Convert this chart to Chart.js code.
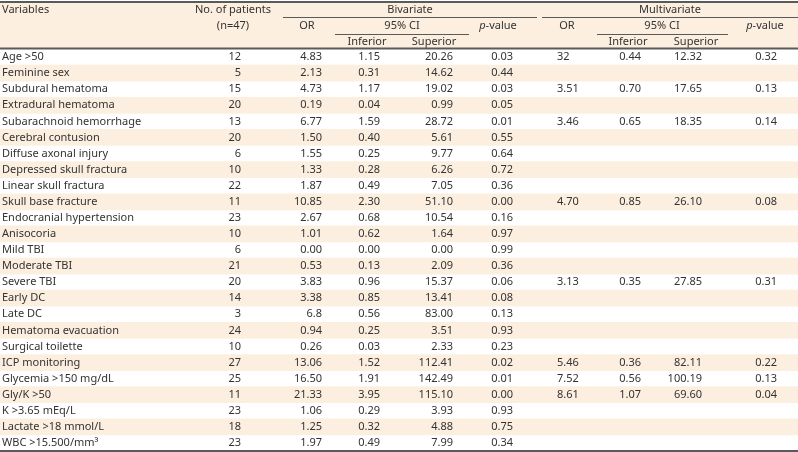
<!DOCTYPE html>
<html>
<head>
<meta charset="utf-8">
<script src="https://cdn.jsdelivr.net/npm/chart.js@4.4.1/dist/chart.umd.min.js"></script>
<style>
    body { margin: 0; background: #ffffff; }
    #wrap { width: 798px; height: 452px; }
</style>
</head>
<body>
<div id="wrap"><canvas id="tableChart"></canvas></div>
<script>
// table rows
const variables = [
    "Age >50", "Feminine sex", "Subdural hematoma", "Extradural hematoma",
    "Subarachnoid hemorrhage", "Cerebral contusion", "Diffuse axonal injury",
    "Depressed skull fractura", "Linear skull fractura", "Skull base fracture",
    "Endocranial hypertension", "Anisocoria", "Mild TBI", "Moderate TBI",
    "Severe TBI", "Early DC", "Late DC", "Hematoma evacuation", "Surgical toilette",
    "ICP monitoring", "Glycemia >150 mg/dL", "Gly/K >50", "K >3.65 mEq/L",
    "Lactate >18 mmol/L", "WBC >15.500/mm\u00B3"
];
const patients = [12, 5, 15, 20, 13, 20, 6, 10, 22, 11, 23, 10, 6, 21, 20, 14, 3, 24, 10, 27, 25, 11, 23, 18, 23];

// bivariate
const bivOR = ["4.83", "2.13", "4.73", "0.19", "6.77", "1.50", "1.55", "1.33", "1.87", "10.85", "2.67", "1.01", "0.00", "0.53", "3.83", "3.38", "6.8", "0.94", "0.26", "13.06", "16.50", "21.33", "1.06", "1.25", "1.97"];
const bivInf = ["1.15", "0.31", "1.17", "0.04", "1.59", "0.40", "0.25", "0.28", "0.49", "2.30", "0.68", "0.62", "0.00", "0.13", "0.96", "0.85", "0.56", "0.25", "0.03", "1.52", "1.91", "3.95", "0.29", "0.32", "0.49"];
const bivSup = ["20.26", "14.62", "19.02", "0.99", "28.72", "5.61", "9.77", "6.26", "7.05", "51.10", "10.54", "1.64", "0.00", "2.09", "15.37", "13.41", "83.00", "3.51", "2.33", "112.41", "142.49", "115.10", "3.93", "4.88", "7.99"];
const bivP = ["0.03", "0.44", "0.03", "0.05", "0.01", "0.55", "0.64", "0.72", "0.36", "0.00", "0.16", "0.97", "0.99", "0.36", "0.06", "0.08", "0.13", "0.93", "0.23", "0.02", "0.01", "0.00", "0.93", "0.75", "0.34"];

// multivariate (blank where not entered)
const mulOR = ["32", null, "3.51", null, "3.46", null, null, null, null, "4.70", null, null, null, null, "3.13", null, null, null, null, "5.46", "7.52", "8.61", null, null, null];
const mulInf = ["0.44", null, "0.70", null, "0.65", null, null, null, null, "0.85", null, null, null, null, "0.35", null, null, null, null, "0.36", "0.56", "1.07", null, null, null];
const mulSup = ["12.32", null, "17.65", null, "18.35", null, null, null, null, "26.10", null, null, null, null, "27.85", null, null, null, null, "82.11", "100.19", "69.60", null, null, null];
const mulP = ["0.32", null, "0.13", null, "0.14", null, null, null, null, "0.08", null, null, null, null, "0.31", null, null, null, null, "0.22", "0.13", "0.04", null, null, null];

const TEXT = "#333333";
const STRIPE = "#fcefdf";
const RULE = "#5a5a5a";
const FONT = '11px "Noto Sans", sans-serif';
const ITALIC = 'italic 11px "Noto Sans", sans-serif';

// body columns: x in layout units, alignment
const columns = [
    { values: variables, x: 2, align: "left" },
    { values: patients, x: 241, align: "right" },
    { values: bivOR, x: 322, align: "right" },
    { values: bivInf, x: 380, align: "right" },
    { values: bivSup, x: 453, align: "right" },
    { values: bivP, x: 513, align: "right" },
    { values: mulOR, x: 557, align: "left" },
    { values: mulInf, x: 641, align: "right" },
    { values: mulSup, x: 702, align: "right" },
    { values: mulP, x: 777, align: "right" },
];

// header texts: row offsets measured from the top of the header block
const headerCells = [
    { text: "Variables", x: 2, row: 9, align: "left" },
    { text: "No. of patients", x: 233, row: 9, align: "center" },
    { text: "(n=47)", x: 233, row: 25, align: "center" },
    { text: "Bivariate", x: 410, row: 9, align: "center" },
    { text: "OR", x: 307, row: 25, align: "center" },
    { text: "95% CI", x: 402, row: 25, align: "center" },
    { text: "p-value", x: 498, row: 25, align: "center", italicP: true },
    { text: "Inferior", x: 367, row: 41, align: "center" },
    { text: "Superior", x: 434, row: 41, align: "center" },
    { text: "Multivariate", x: 670, row: 9, align: "center" },
    { text: "OR", x: 567, row: 25, align: "center" },
    { text: "95% CI", x: 662, row: 25, align: "center" },
    { text: "p-value", x: 765, row: 25, align: "center", italicP: true },
    { text: "Inferior", x: 628, row: 41, align: "center" },
    { text: "Superior", x: 696, row: 41, align: "center" },
];

// spanning rules inside the header
const headerRules = [
    { from: 283, to: 537, row: 16.5 },
    { from: 542, to: 798, row: 16.5 },
    { from: 335, to: 469, row: 33.5 },
    { from: 597, to: 728, row: 33.5 },
];

const HEADER_H = 48;

function drawText(ctx, text, x, y, align, italicP) {
    if (italicP) {
        // italic "p" then the rest upright
        ctx.font = ITALIC;
        const pw = ctx.measureText("p").width;
        ctx.font = FONT;
        const rest = text.slice(1);
        const total = pw + ctx.measureText(rest).width;
        let left = x - total / 2;
        ctx.textAlign = "left";
        ctx.font = ITALIC;
        ctx.fillText("p", left, y);
        ctx.font = FONT;
        ctx.fillText(rest, left + pw, y);
        return;
    }
    ctx.font = FONT;
    ctx.textAlign = align;
    ctx.fillText(text, x, y);
}

const tablePlugin = {
    id: "tablePlugin",
    beforeDatasetsDraw(chart) {
        const ctx = chart.ctx;
        const xs = chart.scales.x;
        const top = chart.chartArea.top;
        ctx.save();
        ctx.fillStyle = STRIPE;
        ctx.fillRect(xs.getPixelForValue(0), top - HEADER_H, xs.getPixelForValue(798) - xs.getPixelForValue(0), HEADER_H);
        ctx.restore();
    },
    afterDatasetsDraw(chart) {
        const ctx = chart.ctx;
        const xs = chart.scales.x;
        const ys = chart.scales.y;
        const area = chart.chartArea;
        const headTop = area.top - HEADER_H;
        const left = xs.getPixelForValue(0);
        const right = xs.getPixelForValue(798);

        ctx.save();
        ctx.fillStyle = TEXT;
        ctx.textBaseline = "middle";

        headerCells.forEach((c) => {
            drawText(ctx, c.text, xs.getPixelForValue(c.x), headTop + c.row, c.align, c.italicP);
        });

        columns.forEach((col) => {
            col.values.forEach((v, i) => {
                if (v === null) return;
                drawText(ctx, String(v), xs.getPixelForValue(col.x), ys.getPixelForValue(i), col.align);
            });
        });

        // rules
        ctx.strokeStyle = RULE;
        ctx.lineWidth = 1;
        headerRules.forEach((r) => {
            ctx.beginPath();
            ctx.moveTo(xs.getPixelForValue(r.from), headTop + r.row);
            ctx.lineTo(xs.getPixelForValue(r.to), headTop + r.row);
            ctx.stroke();
        });
        ctx.lineWidth = 2;
        [headTop + 1, area.top - 0.5, area.bottom].forEach((y) => {
            ctx.beginPath();
            ctx.moveTo(left, y);
            ctx.lineTo(right, y);
            ctx.stroke();
        });
        ctx.restore();
    },
};

const stripes = variables.map((v, i) => (i % 2 === 1 ? [0, 798] : null));

const ctx = document.getElementById("tableChart").getContext("2d");
const tableChart = new Chart(ctx, {
    type: "bar",
    data: {
        labels: variables,
        datasets: [
            {
                data: stripes,
                backgroundColor: STRIPE,
                borderWidth: 0,
                barPercentage: 1,
                categoryPercentage: 1,
            },
        ],
    },
    options: {
        indexAxis: "y",
        responsive: true,
        maintainAspectRatio: false,
        animation: false,
        layout: { padding: { top: HEADER_H + 1, bottom: 1, left: 0, right: 0 } },
        scales: {
            x: { type: "linear", min: 0, max: 798, display: false },
            y: { type: "category", display: false, offset: true },
        },
        plugins: {
            legend: { display: false },
            tooltip: { enabled: false },
        },
    },
    plugins: [tablePlugin],
});
</script>
</body>
</html>
